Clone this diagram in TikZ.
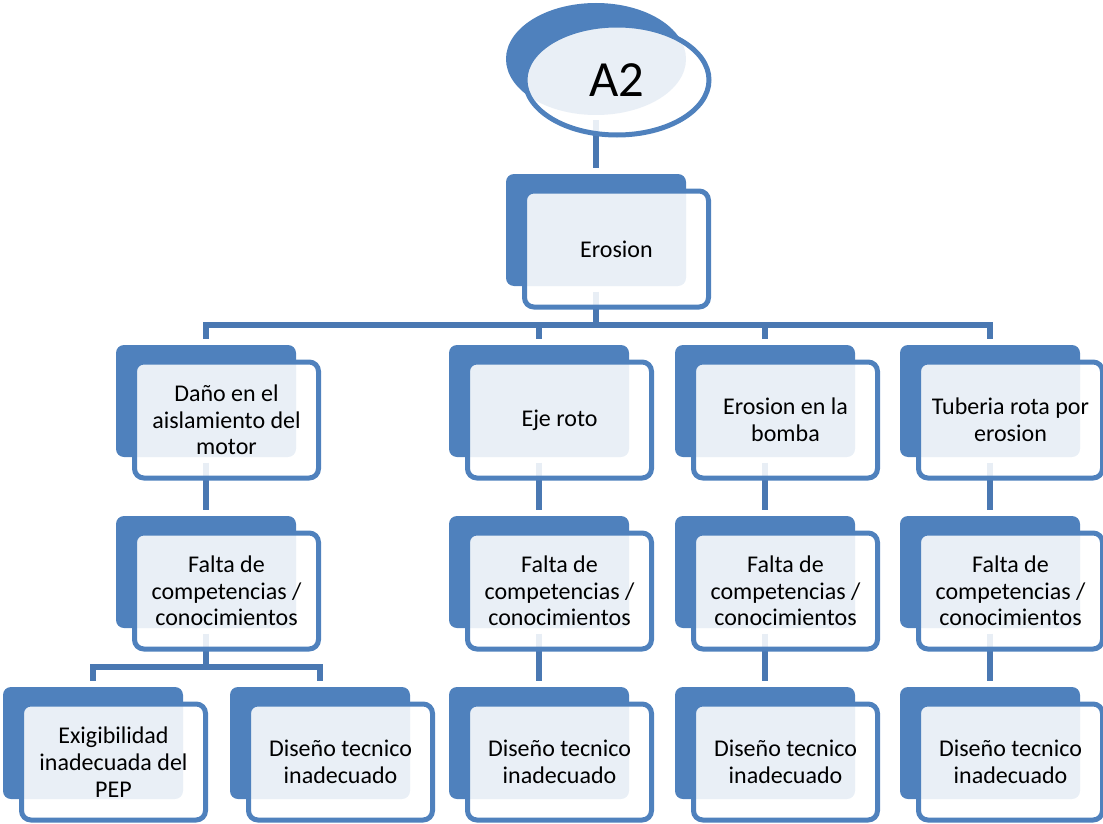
\documentclass[tikz,border=0pt]{standalone}
\usepackage{fontspec}
\setmainfont{Carlito}
\usetikzlibrary{shapes.geometric}
\definecolor{boxblue}{HTML}{4F81BD}
\definecolor{lineblue}{HTML}{4A78B2}
\pgfdeclarelayer{bg}
\pgfsetlayers{bg,main}

% dark card behind, light outlined card in front carrying the text
\newcommand\causenode[4]{%
  \node[back] (#1-b) at (#2,#3) {};
  \node[front] (#1) at ([shift={(20.5,19)}]#1-b.center) {#4};
}

\begin{document}
\begin{tikzpicture}[x=0.75pt,y=-0.75pt,
  back/.style={fill=boxblue, rounded corners=6pt, minimum width=135pt,
    minimum height=84pt, inner sep=0pt},
  front/.style={draw=boxblue, line width=3.75pt, fill=white, fill opacity=0.88,
    text opacity=1, rounded corners=7pt, minimum width=138pt,
    minimum height=87pt, inner sep=0pt, align=center,
    font=\fontsize{18}{20}\selectfont},
  conn/.style={draw=lineblue, line width=4pt}]
\useasboundingbox (0,0) rectangle (1103,824);

% root
\node[ellipse, fill=boxblue, minimum width=135pt, minimum height=84pt,
  inner sep=0pt] (a2-b) at (596,59) {};
\node[ellipse, draw=boxblue, line width=3.75pt, fill=white, fill opacity=0.88,
  text opacity=1, minimum width=138pt, minimum height=82.5pt, inner sep=0pt,
  font=\fontsize{38}{40}\selectfont] (a2) at (617,80) {A2};

% level 1
\causenode{erosion}{596}{230}{Erosion}

% level 2
\causenode{dano}{206}{401}{Daño en el\\aislamiento del\\motor}
\causenode{eje}{539}{401}{Eje roto}
\causenode{bomba}{765}{401}{Erosion en la\\bomba}
\causenode{tub}{990}{401}{Tuberia rota por\\erosion}

% level 3
\causenode{falta1}{206}{572}{Falta de\\competencias /\\conocimientos}
\causenode{falta2}{539}{572}{Falta de\\competencias /\\conocimientos}
\causenode{falta3}{765}{572}{Falta de\\competencias /\\conocimientos}
\causenode{falta4}{990}{572}{Falta de\\competencias /\\conocimientos}

% level 4
\causenode{exig}{93}{743}{Exigibilidad\\inadecuada del\\PEP}
\causenode{dis1}{320}{743}{Diseño tecnico\\inadecuado}
\causenode{dis2}{539}{743}{Diseño tecnico\\inadecuado}
\causenode{dis3}{765}{743}{Diseño tecnico\\inadecuado}
\causenode{dis4}{990}{743}{Diseño tecnico\\inadecuado}

% connectors, kept behind the translucent front cards
\begin{pgfonlayer}{bg}
  \draw[conn] ([yshift=-3.75pt]a2-b.south) -- ([yshift=4.5pt]erosion-b.north);

  \coordinate (bus1) at (596,325);
  \draw[conn] ([yshift=-4pt]erosion-b.south) -- (bus1);
  \draw[conn] ([yshift=4.5pt]dano-b.north) |- (bus1) -| ([yshift=4.5pt]tub-b.north);
  \draw[conn] (bus1 -| eje-b.north) -- ([yshift=4.5pt]eje-b.north);
  \draw[conn] (bus1 -| bomba-b.north) -- ([yshift=4.5pt]bomba-b.north);

  \foreach \a/\b in {dano/falta1, eje/falta2, bomba/falta3, tub/falta4,
                     falta2/dis2, falta3/dis3, falta4/dis4}
    \draw[conn] ([yshift=-4pt]\a-b.south) -- ([yshift=4.5pt]\b-b.north);

  \coordinate (bus2) at (206,667);
  \draw[conn] ([yshift=-4pt]falta1-b.south) -- (bus2);
  \draw[conn] ([yshift=4.5pt]exig-b.north) |- (bus2) -| ([yshift=4.5pt]dis1-b.north);
\end{pgfonlayer}
\end{tikzpicture}
\end{document}
